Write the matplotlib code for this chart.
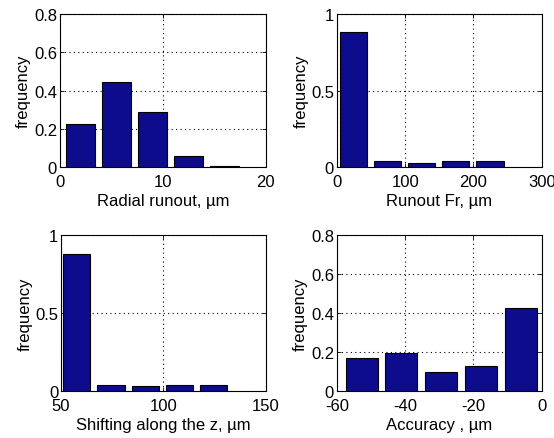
import matplotlib.pyplot as plt

plt.rcParams['font.family'] = ['Liberation Sans', 'DejaVu Sans']
plt.rcParams['font.size'] = 12

# data
radial_x = [2.0, 5.5, 9.0, 12.5, 16.0]
radial_y = [0.226, 0.445, 0.287, 0.057, 0.005]

runout_x = [24, 74, 124, 174, 224]
runout_y = [0.88, 0.037, 0.028, 0.037, 0.037]

shift_x = [57.7, 74.4, 91.1, 107.8, 124.5]
shift_y = [0.878, 0.038, 0.032, 0.038, 0.038]

acc_x = [-52.7, -41.1, -29.5, -17.8, -6.2]
acc_y = [0.172, 0.193, 0.100, 0.131, 0.425]

panels = [
    (radial_x, radial_y, 2.8, (0, 20), [0, 10, 20], (0, 0.8), [0, 0.2, 0.4, 0.6, 0.8],
     ['0', '0.2', '0.4', '0.6', '0.8'], 'Radial runout, µm', [0.108, 0.617, 0.372, 0.349]),
    (runout_x, runout_y, 40, (0, 300), [0, 100, 200, 300], (0, 1), [0, 0.5, 1],
     ['0', '0.5', '1'], 'Runout Fr, µm', [0.608, 0.617, 0.370, 0.349]),
    (shift_x, shift_y, 13.3, (50, 150), [50, 100, 150], (0, 1), [0, 0.5, 1],
     ['0', '0.5', '1'], 'Shifting along the z, µm', [0.110, 0.107, 0.370, 0.355]),
    (acc_x, acc_y, 9.4, (-60, 0), [-60, -40, -20, 0], (0, 0.8), [0, 0.2, 0.4, 0.6, 0.8],
     ['0', '0.2', '0.4', '0.6', '0.8'], 'Accuracy , µm', [0.608, 0.107, 0.370, 0.355]),
]

fig = plt.figure(figsize=(5.54, 4.39), dpi=100)
for x, y, w, xlim, xt, ylim, yt, ytl, xlabel, pos in panels:
    ax = fig.add_axes(pos)
    ax.bar(x, y, width=w, color='#0c0c8c', edgecolor='black', linewidth=0.8, zorder=3)
    ax.set_xlim(*xlim)
    ax.set_ylim(*ylim)
    ax.set_xticks(xt)
    ax.set_xticklabels([str(v) for v in xt])
    ax.set_yticks(yt)
    ax.set_yticklabels(ytl)
    ax.grid(True, linestyle=(0, (1, 3)), color='black', linewidth=0.8, zorder=0)
    ax.set_axisbelow(True)
    ax.tick_params(direction='in', top=True, right=True, length=3, width=0.6, labelsize=12)
    ax.tick_params(axis='x', pad=5)
    ax.tick_params(axis='y', pad=2)
    ax.set_xlabel(xlabel, fontsize=12, labelpad=3)
    ax.set_ylabel('frequency', fontsize=12, labelpad=2)
    for s in ax.spines.values():
        s.set_linewidth(0.8)

fig.savefig('out.png', dpi=100)
